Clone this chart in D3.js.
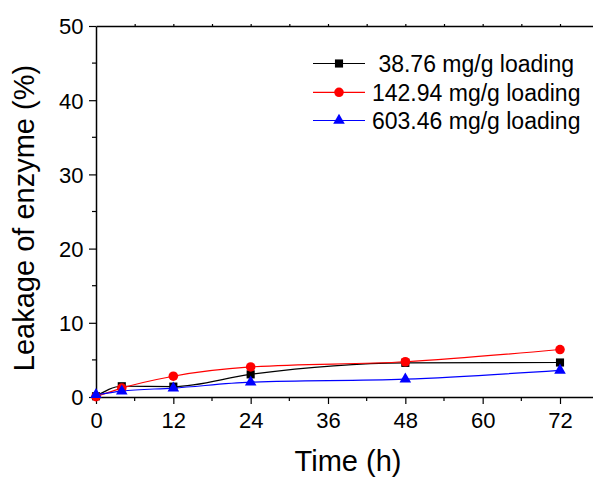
<!DOCTYPE html>
<html>
<head>
<meta charset="utf-8">
<script src="https://cdn.jsdelivr.net/npm/d3@7"></script>
<style>
body { margin: 0; background: #fff; }
svg { font-family: "Liberation Sans", Arial, sans-serif; }
</style>
</head>
<body>
<svg width="593" height="477"></svg>
<script>
let times = [0, 4, 12, 24, 48, 72];
let loading38 = [0.1, 1.45, 1.4, 3.05, 4.6, 4.65];
let loading142 = [0.05, 1.2, 2.8, 4.05, 4.75, 6.4];
let loading603 = [0.3, 0.8, 1.2, 2.0, 2.4, 3.6];
let seriesNames = [' 38.76 mg/g loading', '142.94 mg/g loading', '603.46 mg/g loading'];
let seriesColors = ['#000000', '#ff0000', '#0000ff'];
let seriesShapes = [d3.symbolSquare, d3.symbolCircle, d3.symbolTriangle];
let xTicks = [0, 12, 24, 36, 48, 60, 72];
let yTicks = [0, 10, 20, 30, 40, 50];

let svg = d3.select('svg');
let plotLeft = 96, plotRight = 593, plotTop = 26, plotBottom = 397;

let x = d3.scaleLinear().domain([0, 72]).range([plotLeft, 560]);
let xFull = d3.scaleLinear().domain([0, x.invert(plotRight)]).range([plotLeft, plotRight]);
let y = d3.scaleLinear().domain([0, 50]).range([plotBottom, plotTop]);

// axes ----------------------------------------------------------------------
let xMinor = d3.range(6, 78, 12);
let yMinor = d3.range(5, 50, 10);

let gx = svg.append('g').attr('transform', 'translate(0,' + plotBottom + ')');
gx.call(d3.axisBottom(xFull).tickValues(xTicks).tickSize(7).tickSizeOuter(0).tickFormat(d3.format('d')));
gx.append('g').selectAll('line').data(xMinor).join('line')
    .attr('x1', (d) => xFull(d)).attr('x2', (d) => xFull(d))
    .attr('y1', 0).attr('y2', 4).attr('stroke', '#000').attr('stroke-width', 1.2);

let gy = svg.append('g').attr('transform', 'translate(' + plotLeft + ',0)');
gy.call(d3.axisLeft(y).tickValues(yTicks).tickSize(7).tickSizeOuter(0));
gy.append('g').selectAll('line').data(yMinor).join('line')
    .attr('y1', (d) => y(d)).attr('y2', (d) => y(d))
    .attr('x1', 0).attr('x2', -4).attr('stroke', '#000').attr('stroke-width', 1.2);

let gt = svg.append('g').attr('transform', 'translate(0,' + plotTop + ')');
gt.call(d3.axisTop(xFull).tickValues(d3.range(6, 78, 6)).tickSize(2).tickSizeOuter(0).tickFormat(''));

[gx, gy, gt].forEach((g) => {
    g.select('.domain').attr('stroke-width', 1.5);
    g.selectAll('.tick line').attr('stroke-width', 1.2);
    g.selectAll('.tick text').attr('font-size', 22).attr('fill', '#000')
        .attr('font-family', '"Liberation Sans", Arial, sans-serif');
});
gx.selectAll('.tick text').attr('y', 31).attr('dy', null);
gy.selectAll('.tick text').attr('x', -12.5).attr('dy', '0.36em');

svg.append('text')
    .attr('x', 348).attr('y', 471)
    .attr('text-anchor', 'middle')
    .attr('font-size', 29)
    .text('Time (h)');

svg.append('text')
    .attr('transform', 'translate(34,218) rotate(-90)')
    .attr('text-anchor', 'middle')
    .attr('font-size', 29)
    .text('Leakage of enzyme (%)');

// lines ----------------------------------------------------------------------
let allSeries = [loading38, loading142, loading603];
let line = d3.line()
    .x((d, i) => x(times[i]))
    .y((d) => y(d))
    .curve(d3.curveMonotoneX);

allSeries.forEach((vals, k) => {
    svg.append('path')
        .datum(vals)
        .attr('fill', 'none')
        .attr('stroke', seriesColors[k])
        .attr('stroke-width', 1.2)
        .attr('d', line);
});

let symSizes = [66, 72, 58];
allSeries.forEach((vals, k) => {
    svg.append('g').selectAll('path').data(vals).join('path')
        .attr('transform', (d, i) => 'translate(' + x(times[i]) + ',' + y(d) + ')')
        .attr('d', d3.symbol().type(seriesShapes[k]).size(symSizes[k]))
        .attr('fill', seriesColors[k]);
});

// legend ----------------------------------------------------------------------
let legendY = [63.5, 92.3, 120.5];
seriesNames.forEach((name, k) => {
    let g = svg.append('g').attr('transform', 'translate(0,' + legendY[k] + ')');
    g.append('line').attr('x1', 313).attr('x2', 365).attr('y1', 0).attr('y2', 0)
        .attr('stroke', seriesColors[k]).attr('stroke-width', 1.2);
    g.append('path').attr('transform', 'translate(339,0)')
        .attr('d', d3.symbol().type(seriesShapes[k]).size(symSizes[k]))
        .attr('fill', seriesColors[k]);
    g.append('text').attr('x', 372).attr('y', 8.2)
        .attr('font-size', 23)
        .attr('xml:space', 'preserve')
        .style('white-space', 'pre')
        .text(name);
});
</script>
</body>
</html>
